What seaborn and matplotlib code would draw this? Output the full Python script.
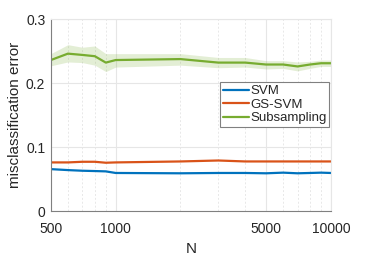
import pandas as pd
import matplotlib
matplotlib.use("Agg")
import matplotlib.pyplot as plt
import seaborn as sns
from matplotlib.ticker import FixedLocator, NullFormatter

# data
N = [500, 600, 700, 800, 900, 1000, 2000, 3000, 4000, 5000, 6000, 7000, 8000, 9000, 10000]
svm = [0.0655, 0.064, 0.063, 0.0625, 0.062, 0.0595, 0.059, 0.0595, 0.0595, 0.059, 0.060, 0.059, 0.0595, 0.060, 0.0595]
gs_svm = [0.076, 0.076, 0.077, 0.077, 0.0755, 0.076, 0.0775, 0.079, 0.0775, 0.0775, 0.0775, 0.0775, 0.0775, 0.0775, 0.0775]
subsampling = [0.236, 0.246, 0.244, 0.242, 0.232, 0.236, 0.2375, 0.232, 0.232, 0.229, 0.229, 0.226, 0.229, 0.231, 0.231]
sub_upper = [0.246, 0.260, 0.256, 0.258, 0.246, 0.246, 0.246, 0.240, 0.240, 0.235, 0.235, 0.233, 0.234, 0.236, 0.236]
sub_lower = [0.227, 0.233, 0.232, 0.228, 0.218, 0.225, 0.228, 0.224, 0.225, 0.222, 0.223, 0.219, 0.223, 0.226, 0.226]
methods = ["SVM", "GS-SVM", "Subsampling"]
colors = ["#0072BD", "#D95319", "#77AC30"]
xtick_labels = ["500", "1000", "5000", "10000"]

df = pd.DataFrame({
    "N": N * 3,
    "error": svm + gs_svm + subsampling,
    "method": [m for m in methods for _ in N],
})

sns.set_style("white")
plt.rcParams["font.family"] = ["Liberation Sans", "DejaVu Sans"]

fig = plt.figure(figsize=(3.66, 2.58), dpi=100)
ax = fig.add_axes([0.139, 0.182, 0.765, 0.744])

ax.fill_between(N, sub_lower, sub_upper, color=colors[2], alpha=0.2, linewidth=0)
sns.lineplot(data=df, x="N", y="error", hue="method", hue_order=methods,
             palette=colors, linewidth=1.6, ax=ax)

ax.set_xscale("log")
ax.set_xlim(500, 10000)
ax.set_ylim(0, 0.3)
ax.xaxis.set_major_locator(FixedLocator([500, 1000, 5000, 10000]))
ax.set_xticklabels(xtick_labels)
minor = [n for n in range(600, 10000, 100) if (n < 1000) or (n % 1000 == 0 and n != 5000)]
ax.xaxis.set_minor_locator(FixedLocator(minor))
ax.xaxis.set_minor_formatter(NullFormatter())
ax.set_yticks([0, 0.1, 0.2, 0.3])
ax.set_yticklabels(["0", "0.1", "0.2", "0.3"])

ax.grid(True, which="major", color="#e6e6e6", linewidth=0.8, linestyle="-")
ax.xaxis.grid(True, which="minor", color="#e8e8e8", linewidth=0.7, linestyle=(0, (2, 2)))

for side in ["left", "bottom"]:
    ax.spines[side].set_color("#808080")
    ax.spines[side].set_linewidth(0.8)
for side in ["top", "right"]:
    ax.spines[side].set_color("#e6e6e6")
    ax.spines[side].set_linewidth(0.8)

ax.tick_params(which="both", direction="in", colors="#808080", labelcolor="#262626",
               labelsize=10, length=2.5, width=0.6)
ax.tick_params(which="minor", length=1.5)
ax.tick_params(axis="x", pad=8)
ax.tick_params(axis="y", pad=4)

ax.set_xlabel("N", fontsize=11, color="#262626", labelpad=4)
ax.set_ylabel("misclassification error", fontsize=11, color="#262626", labelpad=3)

leg = ax.legend(loc="upper right", bbox_to_anchor=(0.995, 0.67), fontsize=9.5,
                frameon=True, fancybox=False, edgecolor="#808080", framealpha=1,
                handlelength=2.0, handletextpad=0.1, borderpad=0.2,
                labelspacing=0.1, borderaxespad=0)
leg.get_frame().set_linewidth(0.8)

fig.savefig("out.png", dpi=100)
